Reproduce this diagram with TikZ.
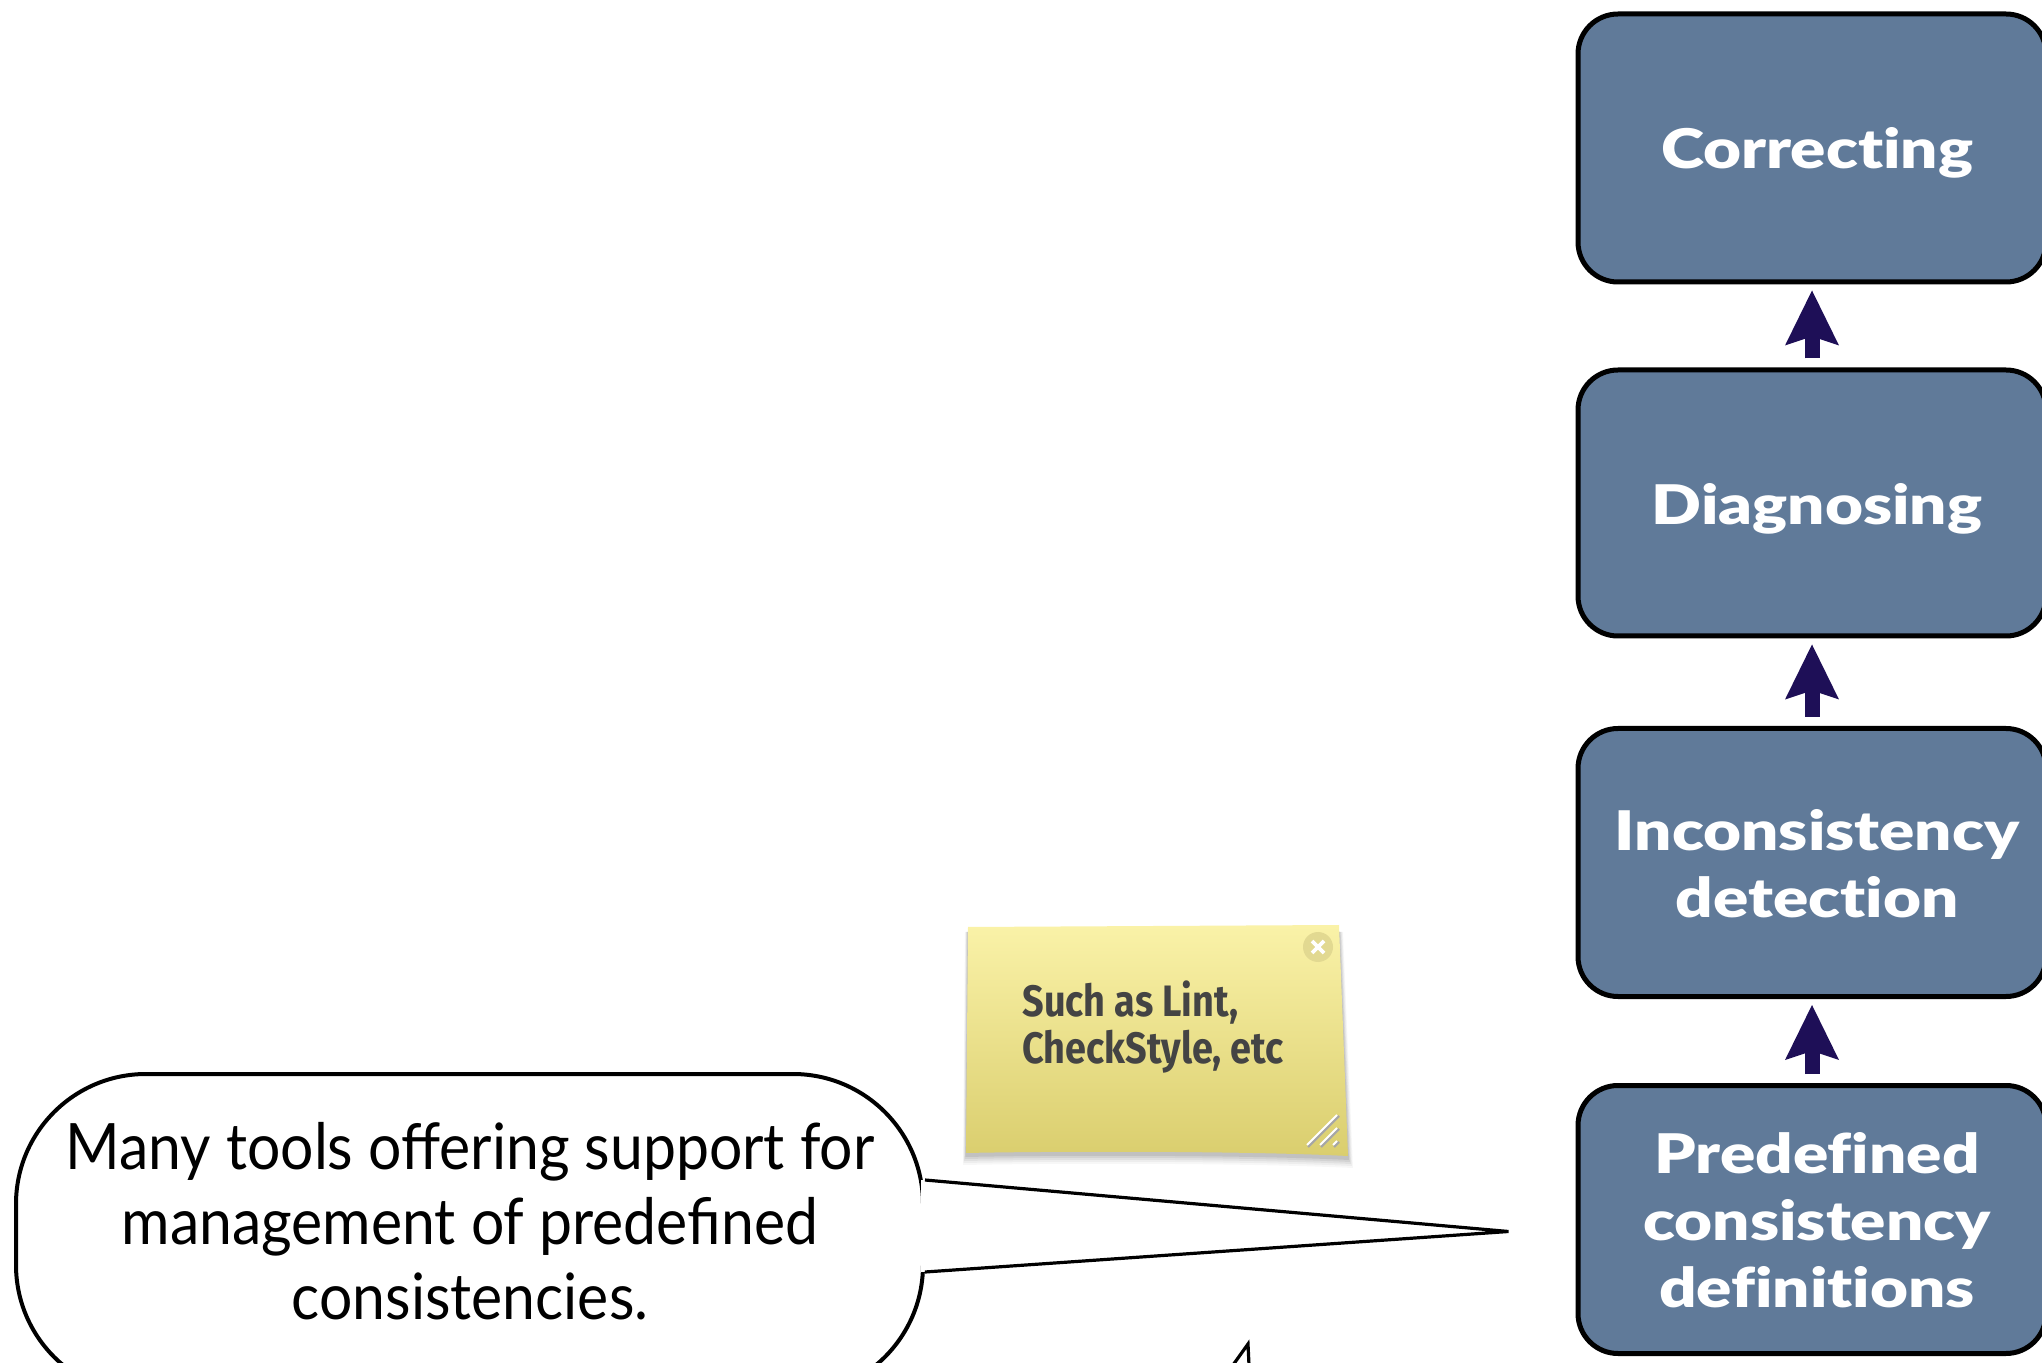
\documentclass[tikz,border=0pt]{standalone}
\usepackage{fontspec}
\setmainfont{Lato}[FakeStretch=0.92]
\newfontfamily\stepfont{Lato Black}[FakeStretch=1.2, Ligatures=NoCommon]
\newfontfamily\notefont{Fira Sans}[FakeStretch=0.86]
\usetikzlibrary{arrows.meta,calc}

\definecolor{boxblue}{RGB}{96,122,153}
\definecolor{arrowcol}{RGB}{30,15,87}
\definecolor{notetop}{RGB}{250,242,168}
\definecolor{notebot}{RGB}{218,206,110}
\definecolor{closecol}{RGB}{226,217,145}
\definecolor{notetext}{RGB}{68,68,68}

\tikzset{
  stepbox/.style={draw=black, line width=2.5pt, fill=boxblue, rounded corners=20pt,
    minimum width=234pt, minimum height=134pt, inner sep=0pt},
  steptext/.style={text=white, align=center, inner sep=0pt,
    font=\stepfont\fontsize{27.3}{33.5}\selectfont},
  conn/.style={arrowcol, line width=7.5pt,
    -{Stealth[length=27.5pt, width=27pt, inset=4.5pt, line width=0pt]},
    shorten >=3pt, shorten <=4.5pt},
  bubble/.style={draw=black, line width=2pt, fill=white, rounded corners=65pt,
    minimum width=453.5pt, minimum height=160.5pt, inner sep=0pt},
  bubbletext/.style={align=center, inner sep=0pt, font=\fontsize{32}{37.5}\selectfont},
  stickytext/.style={text=notetext, align=left, inner sep=0pt,
    font=\notefont\bfseries\fontsize{22}{23.5}\selectfont},
}

\begin{document}
\begin{tikzpicture}[x=0.5pt, y=-0.5pt]
\useasboundingbox (0,0) rectangle (2042,1363);
\clip (0,0) rectangle (2042,1363);
\fill[white] (0,0) rectangle (2042,1363);

% process steps
\node[stepbox] (cor) at (1812,148) {};
\node[stepbox, minimum height=133pt] (dia) at (1812,503) {};
\node[stepbox] (inc) at (1812,862.5) {};
\node[stepbox] (pre) at (1812,1219.5) {};

\node[steptext] (corT) at (1817,153) {Correcting};
\node[steptext] (diaT) at (1817,509) {Diagnosing};
\node[steptext] (incT) at (1817,864) {Inconsistency\\detection};
\node[steptext] (preT) at (1817,1220) {Predefined\\consistency\\definitions};

% upward connectors
\draw[conn] (dia.north) -- (cor.south);
\draw[conn] (inc.north) -- (dia.south);
\draw[conn] (pre.north) -- (inc.south);

% sticky note: shadow, paper, close button, resize grip
\foreach \i/\o in {10/0.03,8/0.04,6/0.05,4/0.06,2/0.08}{
  \fill[black, opacity=\o] (968-\i*0.3,932) -- (1339+\i*0.4,932) -- (1348+\i*0.5,1158+\i)
     .. controls (1250,1153+\i) and (1060,1153+\i) .. (966-\i*0.3,1155+\i) -- cycle;
}
\shade[top color=notetop, bottom color=notebot]
  (968,927) -- (1339,925) -- (1348,1156)
  .. controls (1250,1151) and (1060,1151) .. (966,1153) -- cycle;
\node[circle, fill=closecol, minimum size=15pt, inner sep=0pt] (close) at (1318,947) {};
\draw[white, line width=1.8pt] ($(close)+(-6,-6)$) -- ($(close)+(6,6)$)
                               ($(close)+(-6,6)$) -- ($(close)+(6,-6)$);
\coordinate (grip) at (1338,1146);
\foreach \d in {0,13,26}{
  \draw[gray!70, line width=1.2pt] ($(grip)+(-30+\d,1)$) -- ($(grip)+(1,-30+\d)$);
  \draw[white, line width=1pt] ($(grip)+(-31+\d,-1)$) -- ($(grip)+(-1,-31+\d)$);
}
\node[stickytext, anchor=north west] (note) at (1022,980) {Such as Lint,\\CheckStyle, etc};

% speech bubble pointing at the predefined definitions
\node[bubble] (bub) at (469.5,1234.5) {};
\coordinate (tip) at ($(pre.west)+(-67,12)$);
\fill[white] ($(bub.east)+(-4,-54.5)$) -- (tip) -- ($(bub.east)+(-4,37.5)$) -- cycle;
\draw[line width=1.6pt, line join=miter] ($(bub.east)+(0,-54.5)$) -- (tip) -- ($(bub.east)+(0,37.5)$);
\node[bubbletext] (bubT) at (470,1221) {Many tools offering support for\\management of predefined\\consistencies.};

% edge of a further callout below
\coordinate (m1) at (1233,1365);
\coordinate (m2) at (1248,1344);
\coordinate (m3) at (1249,1365);
\draw[line width=1.6pt] (m1) -- (m2) -- (m3);
\end{tikzpicture}
\end{document}
